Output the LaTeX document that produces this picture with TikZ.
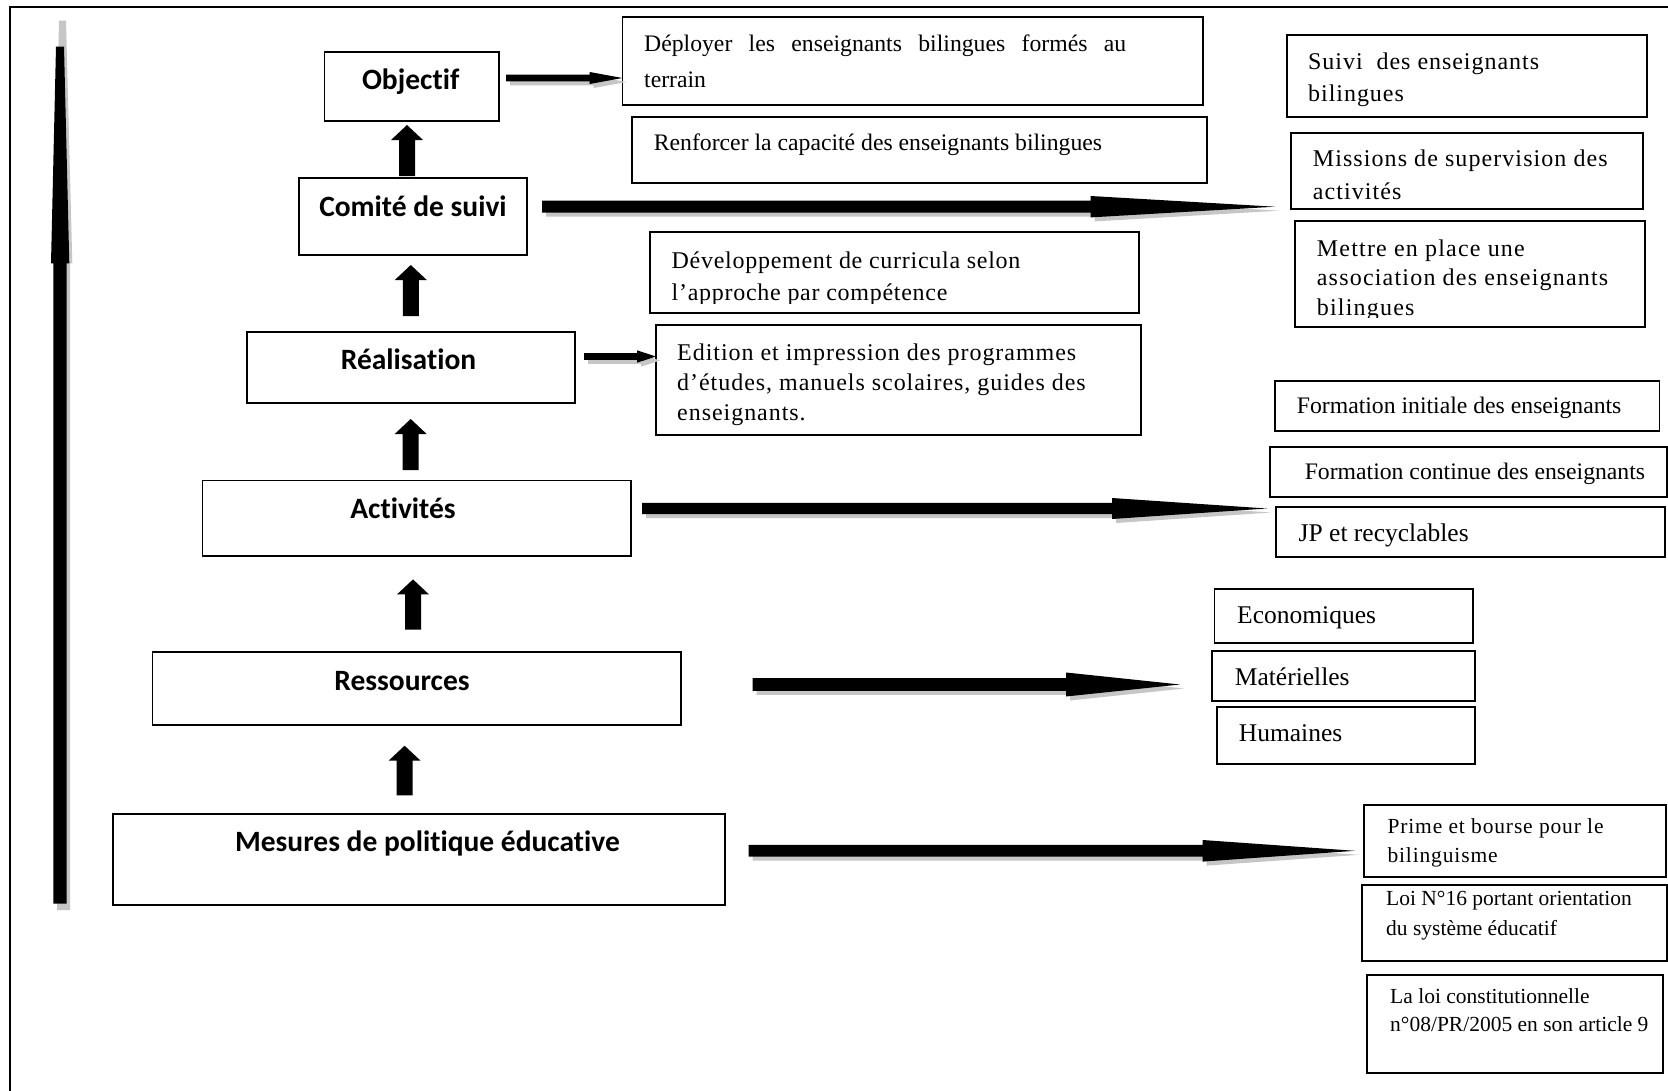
\documentclass[tikz,border=0pt]{standalone}
\usepackage{fontspec}
\setmainfont{Liberation Serif}[Ligatures=CommonOff]
\newfontfamily\lblfont{Carlito}[Ligatures=CommonOff]
\usetikzlibrary{calc}
\tikzset{
  box/.style={draw, line width=1.8pt, inner sep=0pt, outer sep=0pt, anchor=north west},
  lbl/.style={anchor=base, inner sep=0pt, font=\lblfont\bfseries\fontsize{29.5}{35}\selectfont},
  txt/.style={anchor=base west, inner sep=0pt},
}
% multi-line text: size, leading, letterspace, lines
\newcommand\mylines[4]{\fontsize{#1}{#2}\selectfont\addfontfeatures{LetterSpace=#3}\parbox[t]{600pt}{\raggedright #4}}
% horizontal block arrow: [colour] start, end, shaft half, head half, head length
\newcommand\harr[6][black]{%
  \fill[#1] ($(#2)+(0,-#4)$) -- ($(#3)+(-#6,-#4)$) -- ($(#3)+(-#6,-#5)$) -- (#3)
    -- ($(#3)+(-#6,#5)$) -- ($(#3)+(-#6,#4)$) -- ($(#2)+(0,#4)$) -- cycle;}
% vertical block arrow: bottom, tip
\newcommand\uparr[2]{%
  \fill ($(#1)+(-8,0)$) -- ($(#2)+(-8,15)$) -- ($(#2)+(-16,15)$) -- (#2)
    -- ($(#2)+(16,15)$) -- ($(#2)+(8,15)$) -- ($(#1)+(8,0)$) -- cycle;}
\begin{document}
\begin{tikzpicture}[x=1pt,y=-1pt]
\useasboundingbox (0,0) rectangle (1668,1090);
\fill[white] (0,0) rectangle (1668,1090);

% frame
\draw[line width=2pt] (10,1100) -- (10,6.7) -- (1680,6.7);

% long vertical arrow on the left
\fill[gray!45] (59,20.7) -- (66,20.7) -- (72.3,263.3) -- (70,263.3) -- (70,910) -- (57,910) -- (57,263.3) -- (54,263.3) -- cycle;
\fill (56,46.7) -- (64,46.7) -- (69.3,263.3) -- (66.7,263.3) -- (66.7,903.5) -- (53.3,903.5) -- (53.3,263.3) -- (51,263.3) -- cycle;

% left column boxes
\node[box, minimum width=174.5pt, minimum height=69pt]   (obj) at (324.5,52) {};
\node[box, minimum width=228.3pt, minimum height=77pt]   (com) at (298.7,178) {};
\node[box, minimum width=328pt,   minimum height=71pt]   (rea) at (247,332) {};
\node[box, minimum width=428.5pt, minimum height=75.8pt] (act) at (202.5,480.5) {};
\node[box, minimum width=528.5pt, minimum height=72.6pt] (res) at (152.5,652) {};
\node[box, minimum width=612.2pt, minimum height=90.7pt] (mes) at (112.8,814) {};

\node[lbl] (lobj) at (410.7,89.3) {Objectif};
\node[lbl] (lcom) at (413,216) {Comité de suivi};
\node[lbl] (lrea) at (408.5,369.3) {Réalisation};
\node[lbl] (lact) at (403,518.4) {Activités};
\node[lbl] (lres) at (402,690) {Ressources};
\node[lbl] (lmes) at (427.5,851.7) {Mesures de politique éducative};

% upward block arrows
\coordinate (u1b) at (407,176);   \coordinate (u1t) at (407,125);
\coordinate (u2b) at (410.8,316); \coordinate (u2t) at (410.8,265);
\coordinate (u3b) at (410.7,470); \coordinate (u3t) at (410.7,419);
\coordinate (u4b) at (413,629.5); \coordinate (u4t) at (413,579.4);
\coordinate (u5b) at (404.6,795.3); \coordinate (u5t) at (404.6,745.7);
\uparr{u1b}{u1t}
\uparr{u2b}{u2t}
\uparr{u3b}{u3t}
\uparr{u4b}{u4t}
\uparr{u5b}{u5t}

% middle boxes
\node[box, minimum width=580.6pt, minimum height=88.6pt] (dep) at (622.4,16.7) {};
\node[box, minimum width=575pt,   minimum height=66pt]   (ren) at (632,117) {};
\node[box, minimum width=489pt,   minimum height=81pt]   (dev) at (650,232) {};
\node[box, minimum width=485pt,   minimum height=110pt]  (edi) at (656,325) {};

% right boxes
\node[box, minimum width=360pt,   minimum height=81.7pt] (sui) at (1286.7,35) {};
\node[box, minimum width=352.3pt, minimum height=76pt]   (mis) at (1290.7,133) {};
\node[box, minimum width=350pt,   minimum height=106pt]  (met) at (1295,220.7) {};
\node[box, minimum width=384.5pt, minimum height=50pt]   (fin) at (1275,380.7) {};
\node[box, minimum width=397pt,   minimum height=50pt]   (fco) at (1270,447) {};
\node[box, minimum width=389pt,   minimum height=50pt]   (jp)  at (1276,506.7) {};
\node[box, minimum width=258.5pt, minimum height=54pt]   (eco) at (1214.5,588.7) {};
\node[box, minimum width=263pt,   minimum height=50pt]   (mat) at (1212,651) {};
\node[box, minimum width=258.4pt, minimum height=57.3pt] (hum) at (1216.6,706.7) {};
\node[box, minimum width=301.4pt, minimum height=71.7pt] (pri) at (1364.3,805) {};
\node[box, minimum width=305pt,   minimum height=75.7pt] (loi) at (1362.3,885) {};
\node[box, minimum width=296.6pt, minimum height=98.3pt] (lal) at (1366.7,975) {};

% texts
\node[txt] (tdep) at (644,51.7) {\mylines{23.7}{35.3}{0}{\makebox[482pt][s]{Déployer les enseignants bilingues formés au}\\terrain}};
\node[txt] (tren) at (653.7,150) {\mylines{23.7}{30}{0}{Renforcer la capacité des enseignants bilingues}};
\begin{scope}
\clip (645,228) rectangle (1145,303);
\node[txt] (tdev) at (671.5,268.3) {\mylines{24}{32.2}{3}{Développement de curricula selon\\l’approche par compétence}};
\end{scope}
\node[txt] (tedi) at (677,360) {\mylines{24}{30.35}{4}{Edition et impression des programmes\\d’études, manuels scolaires, guides des\\enseignants.}};
\node[txt] (tsui) at (1308,69.3) {\mylines{24}{31.7}{4}{Suivi~ des enseignants\\bilingues}};
\node[txt] (tmis) at (1312.7,166.7) {\mylines{24}{32.3}{4.5}{Missions de supervision des\\activités}};
\begin{scope}
\clip (1290,222) rectangle (1650,317.5);
\node[txt] (tmet) at (1316.7,256.7) {\mylines{24}{29.2}{5}{Mettre en place une\\association des enseignants\\bilingues}};
\end{scope}
\node[txt] (tfin) at (1296.7,413.3) {\mylines{23.7}{30}{0}{Formation initiale des enseignants}};
\node[txt] (tfco) at (1304.6,479.3) {\mylines{23.7}{30}{0}{Formation continue des enseignants}};
\node[txt] (tjp)  at (1298.5,541)   {\mylines{25.5}{30}{0}{JP et recyclables}};
\node[txt] (teco) at (1237,623.3)   {\mylines{25.5}{30}{0}{Economiques}};
\node[txt] (tmat) at (1234.7,685)   {\mylines{25.5}{30}{0}{Matérielles}};
\node[txt] (thum) at (1238.7,741)   {\mylines{25.5}{30}{0}{Humaines}};
\node[txt] (tpri) at (1387.3,833.3) {\mylines{21.5}{29}{4}{Prime et bourse pour le\\bilinguisme}};
\node[txt] (tloi) at (1386,905)     {\mylines{21.5}{30}{0}{Loi N°16 portant orientation\\du système éducatif}};
\node[txt] (tlal) at (1390,1003.3)  {\mylines{21.5}{28.4}{0}{La loi constitutionnelle\\n°08/PR/2005 en son article 9}};

% horizontal arrows
\coordinate (a1s) at (506,78);      \coordinate (a1e) at (a1s -| dep.west);
\coordinate (a2s) at (542,206.7);   \coordinate (a2e) at (1275,206.7);
\coordinate (a3s) at (584,356.5);   \coordinate (a3e) at (a3s -| edi.west);
\coordinate (a4s) at (642,508.5);   \coordinate (a4e) at (1267,508.5);
\coordinate (a5s) at (752.6,684.5); \coordinate (a5e) at (1180,684.5);
\coordinate (a6s) at (748.5,850.8); \coordinate (a6e) at (1355,850.8);
\begin{scope}[transform canvas={xshift=4pt,yshift=-4pt}]
\harr[gray!45]{a1s}{a1e}{3.35}{6}{32.7}
\harr[gray!45]{a2s}{a2e}{6}{10.7}{184.3}
\harr[gray!45]{a3s}{a3e}{3.35}{6.2}{19}
\harr[gray!45]{a4s}{a4e}{5.7}{10.5}{155}
\harr[gray!45]{a5s}{a5e}{6.3}{12}{114}
\harr[gray!45]{a6s}{a6e}{5.85}{10.8}{152.3}
\end{scope}
\harr{a1s}{a1e}{3.35}{6}{32.7}
\harr{a2s}{a2e}{6}{10.7}{184.3}
\harr{a3s}{a3e}{3.35}{6.2}{19}
\harr{a4s}{a4e}{5.7}{10.5}{155}
\harr{a5s}{a5e}{6.3}{12}{114}
\harr{a6s}{a6e}{5.85}{10.8}{152.3}
\end{tikzpicture}
\end{document}
